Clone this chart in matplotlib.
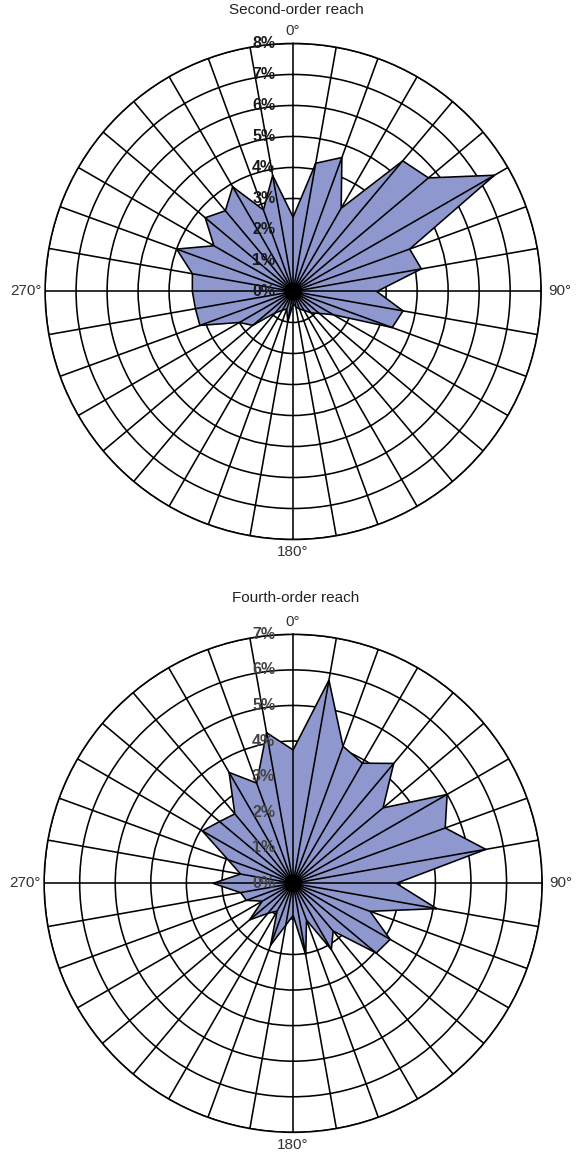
import numpy as np
import matplotlib.pyplot as plt
from matplotlib.patches import Circle

plt.rcParams["font.family"] = ["Liberation Sans", "DejaVu Sans"]

# direction classes (degrees clockwise from north)
directions = np.arange(0, 360, 10)

# percentage of reaches per 10 degree class
second_order = [2.4, 4.2, 4.6, 3.1, 5.5, 5.7, 7.5, 4.0, 4.2, 2.7,
                3.6, 3.4, 1.5, 1.1, 0.9, 0.7, 0.6, 0.5, 0.4, 1.0,
                0.6, 0.7, 0.9, 1.7, 2.0, 3.2, 3.2, 3.25, 3.3, 4.0,
                2.95, 3.7, 3.4, 3.9, 2.8, 3.8]
fourth_order = [3.75, 5.8, 4.1, 3.9, 4.4, 3.3, 5.0, 4.55, 5.5, 2.9,
                4.1, 2.3, 3.15, 3.05, 1.75, 2.15, 1.1, 2.05, 0.9, 1.2,
                1.85, 0.9, 1.1, 1.6, 1.0, 1.4, 1.5, 2.25, 1.5, 1.95,
                2.95, 2.7, 2.55, 3.6, 3.0, 4.3]

titles = ["Second-order reach", "Fourth-order reach"]
rmax_pct = [8, 7]
compass = [0, 90, 180, 270]

FILL = "#8F98CE"
LW = 1.15


def rose(ax, values, rmax, weight, lab_color):
    theta = np.deg2rad(directions)
    vals = np.asarray(values, dtype=float)
    ax.set_theta_zero_location("N")
    ax.set_theta_direction(-1)
    ax.set_axisbelow(True)

    th_c = np.append(theta, theta[0])
    r_c = np.append(vals, vals[0])
    ax.fill(th_c, r_c, facecolor=FILL, edgecolor="black", lw=LW, zorder=2)
    ax.vlines(theta, 0, vals, color="black", lw=LW, zorder=3)

    ax.set_ylim(0, rmax)
    ax.set_yticks(np.arange(1, rmax + 1))
    ax.set_yticklabels([])
    ax.set_thetagrids(directions, labels=[""] * len(directions))
    ax.grid(True, color="black", lw=LW)
    ax.spines["polar"].set_linewidth(LW)

    # compass labels, a little further out at the sides than at top/bottom
    for d in compass:
        a = np.deg2rad(d)
        dx = (0.5 + 0.038) * np.sin(a)
        dy = (0.5 + 0.025) * np.cos(a)
        ax.text(0.5 + dx, 0.5 + dy, f"{d}°", transform=ax.transAxes,
                ha="center", va="center", fontsize=11, color="#333333")

    # dark hub where all the spokes meet
    ax.add_patch(Circle((0.5, 0.5), 0.018, transform=ax.transAxes,
                        facecolor="black", edgecolor="none", zorder=4))

    # percentage labels in a column just left of the north spoke
    for v in range(0, rmax + 1):
        ax.text(0.5 - 0.036, 0.5 + 0.5 * v / rmax, f"{v}%",
                transform=ax.transAxes, ha="right", va="center",
                fontsize=11.5, fontweight=weight, color=lab_color, zorder=5)


fig = plt.figure(figsize=(5.77, 11.59), dpi=100)

ax1 = fig.add_axes([0.074, 0.5345, 0.868, 0.428], projection="polar")
rose(ax1, second_order, rmax_pct[0], "bold", "#1a1a1a")

ax2 = fig.add_axes([0.074, 0.023, 0.868, 0.4297], projection="polar")
rose(ax2, fourth_order, rmax_pct[1], "bold", "#444444")

fig.text(0.513, 1 - 10 / 1159, titles[0], ha="center", va="center", fontsize=11, color="#222222")
fig.text(0.513, 1 - 598 / 1159, titles[1], ha="center", va="center", fontsize=11, color="#222222")

fig.savefig("out.png", dpi=100)
